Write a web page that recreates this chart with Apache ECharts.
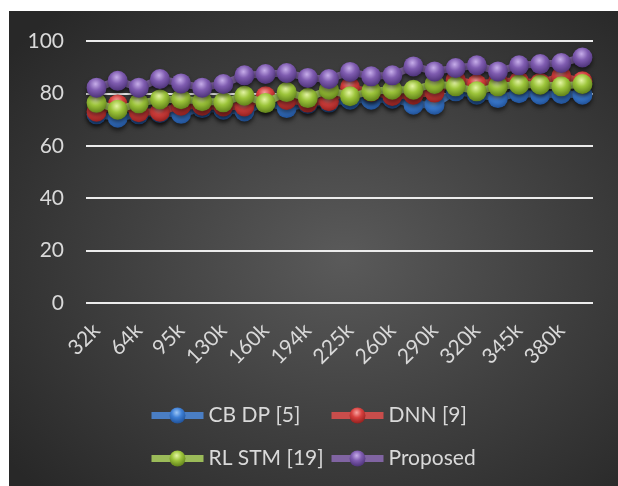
<!DOCTYPE html>
<html>
<head>
<meta charset="utf-8">
<script src="https://cdn.jsdelivr.net/npm/echarts@6/dist/echarts.min.js"></script>
<style>
  html, body { margin: 0; padding: 0; background: #ffffff; }
  #panel {
    position: absolute; left: 9px; top: 11px; width: 609px; height: 475px;
    background: radial-gradient(ellipse 70% 70% at 55% 52%, #5a5a5a 0%, #3e3e3e 55%, #282828 100%);
  }
  #chart { position: absolute; left: 0; top: 0; width: 618px; height: 486px; }
</style>
</head>
<body>
<div id="panel"></div>
<div id="chart"></div>
<script>
// Tick labels shown on every other sample along the x axis
const tickLabels = ['32k', '64k', '95k', '130k', '160k', '194k', '225k', '260k', '290k', '320k', '345k', '380k'];

// 24 samples, two per labelled tick
const sampleIdx = Array.from({ length: 24 }, (_, i) => String(i));

const cbdp = [72.0, 70.7, 72.0, 72.5, 72.2, 74.4, 73.8, 73.1, 76.5, 74.4, 76.0, 76.5,
              77.6, 77.6, 78.0, 75.7, 75.7, 80.8, 79.5, 78.2, 80.1, 79.5, 79.8, 79.5];
const dnn = [73.0, 75.8, 72.8, 73.0, 75.3, 75.3, 75.0, 75.0, 78.9, 77.5, 76.5, 77.0,
             82.3, 80.5, 79.0, 79.5, 80.3, 85.2, 83.5, 84.6, 84.6, 84.0, 86.5, 84.6];
const rlstm = [76.4, 73.8, 76.2, 77.7, 77.8, 77.0, 76.6, 79.1, 76.3, 80.5, 78.2, 81.4,
               78.9, 80.8, 81.4, 81.4, 83.6, 82.7, 80.8, 82.7, 83.3, 83.3, 82.7, 83.6];
const proposed = [82.2, 84.8, 82.2, 85.5, 83.8, 82.2, 83.6, 86.9, 87.4, 87.8, 85.9, 85.5,
                  88.2, 86.5, 86.9, 90.3, 88.4, 89.7, 90.7, 88.4, 90.7, 91.2, 91.6, 93.7];

const seriesNames = ['CB DP [5]', 'DNN [9]', 'RL STM [19]', 'Proposed'];
const seriesData = [cbdp, dnn, rlstm, proposed];

// base / highlight / shade / line colour per series
const palette = [
  { base: '#3d7fd6', light: '#9cc6f5', dark: '#1f4f94', line: '#4a7ec4' },
  { base: '#d8403e', light: '#f7a3a0', dark: '#8e1f1d', line: '#c84d4b' },
  { base: '#9cc43a', light: '#e4f5a4', dark: '#5d7d18', line: '#9bbb59' },
  { base: '#7f5cb0', light: '#c6ade9', dark: '#4b3176', line: '#8064a2' }
];

function sphere(p) {
  return {
    type: 'radial', x: 0.45, y: 0.32, r: 0.7,
    colorStops: [
      { offset: 0, color: p.light },
      { offset: 0.45, color: p.base },
      { offset: 1, color: p.dark }
    ]
  };
}

const textColor = '#d9d9d9';
const font = 'Lato, "Open Sans", sans-serif';

const series = seriesNames.map((name, k) => ({
  name: name,
  type: 'line',
  data: seriesData[k],
  symbol: 'circle',
  symbolSize: 20,
  showSymbol: true,
  showAllSymbol: true,
  z: 2 + k,
  lineStyle: {
    color: palette[k].line, width: 7,
    shadowColor: 'rgba(0,0,0,0.35)', shadowBlur: 3, shadowOffsetY: 2
  },
  itemStyle: {
    color: sphere(palette[k]),
    borderWidth: 0,
    shadowColor: 'rgba(0,0,0,0.55)', shadowBlur: 4, shadowOffsetY: 3
  },
  emphasis: { disabled: true }
}));

// legend entries laid out in a 2 x 2 block
const legendPos = [
  { left: 148, top: 405 },
  { left: 328, top: 405 },
  { left: 148, top: 448 },
  { left: 328, top: 448 }
];
const legends = seriesNames.map((name, k) => ({
  data: [name],
  left: legendPos[k].left,
  top: legendPos[k].top,
  itemWidth: 52,
  itemHeight: 20,
  itemGap: 6,
  padding: 0,
  selectedMode: false,
  lineStyle: { width: 7 },
  textStyle: { color: textColor, fontSize: 21, fontFamily: font, padding: [0, 0, 0, 0] }
}));

const chart = echarts.init(document.getElementById('chart'), null, { renderer: 'canvas' });
chart.setOption({
  backgroundColor: 'transparent',
  animation: false,
  grid: { left: 86, right: 25, top: 41, bottom: 183, containLabel: false },
  legend: legends,
  xAxis: {
    type: 'category',
    data: sampleIdx,
    boundaryGap: true,
    axisLine: { show: false },
    axisTick: { show: false },
    axisLabel: {
      interval: 1,
      rotate: 45,
      margin: 24,
      color: textColor,
      fontSize: 21,
      fontFamily: font,
      formatter: (v, i) => tickLabels[i / 2]
    }
  },
  yAxis: {
    type: 'value',
    min: 0, max: 100, interval: 20,
    axisLine: { show: false },
    axisTick: { show: false },
    axisLabel: { color: textColor, fontSize: 21, fontFamily: font, margin: 22 },
    splitLine: { lineStyle: { color: '#ececec', width: 2 } }
  },
  series: series
});
</script>
</body>
</html>
